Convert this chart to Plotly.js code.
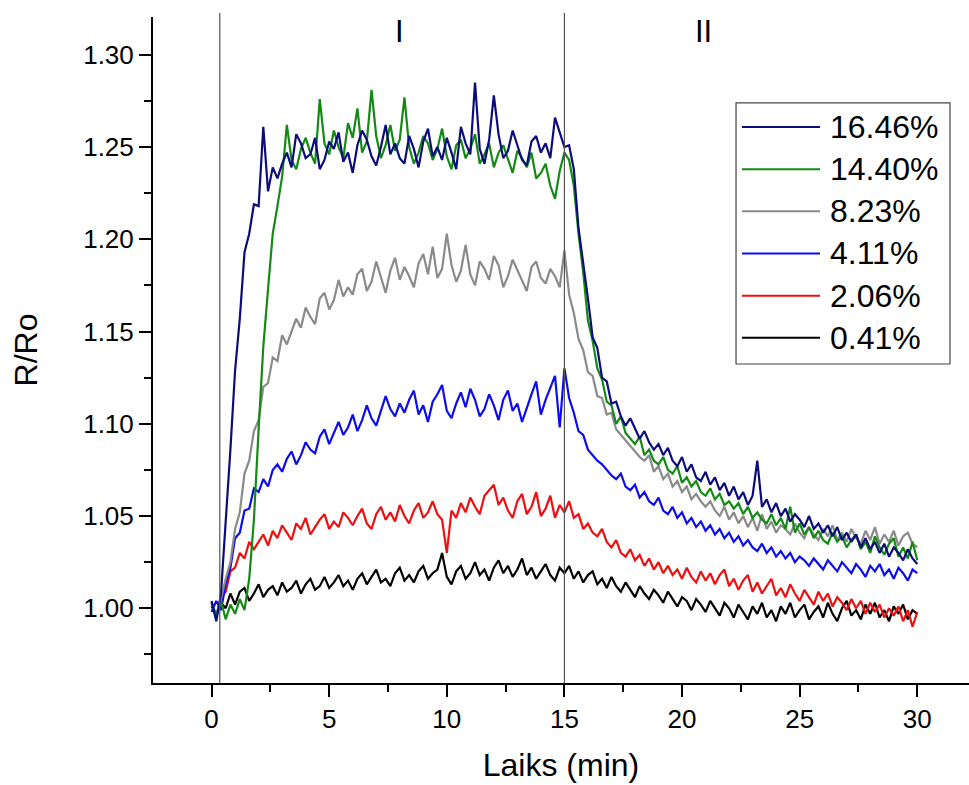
<!DOCTYPE html>
<html>
<head>
<meta charset="utf-8">
<script src="https://cdn.plot.ly/plotly-3.0.1.min.js"></script>
<style>html,body{margin:0;padding:0;background:#fff;}#chart{width:969px;height:785px;}</style>
</head>
<body>
<div id="chart"></div>
<script>
// time (min)
const time = [0,0.2,0.4,0.6,0.8,1,1.2,1.4,1.6,1.8,2,2.2,2.4,2.6,2.8,3,3.2,3.4,3.6,3.8,4,4.2,4.4,4.6,4.8,5,5.2,5.4,5.6,5.8,6,6.2,6.4,6.6,6.8,7,7.2,7.4,7.6,7.8,8,8.2,8.4,8.6,8.8,9,9.2,9.4,9.6,9.8,10,10.2,10.4,10.6,10.8,11,11.2,11.4,11.6,11.8,12,12.2,12.4,12.6,12.8,13,13.2,13.4,13.6,13.8,14,14.2,14.4,14.6,14.8,15,15.2,15.4,15.6,15.8,16,16.2,16.4,16.6,16.8,17,17.2,17.4,17.6,17.8,18,18.2,18.4,18.6,18.8,19,19.2,19.4,19.6,19.8,20,20.2,20.4,20.6,20.8,21,21.2,21.4,21.6,21.8,22,22.2,22.4,22.6,22.8,23,23.2,23.4,23.6,23.8,24,24.2,24.4,24.6,24.8,25,25.2,25.4,25.6,25.8,26,26.2,26.4,26.6,26.8,27,27.2,27.4,27.6,27.8,28,28.2,28.4,28.6,28.8,29,29.2,29.4,29.6,29.8,30];

const s1646 = [1.004,0.993,1.008,1.046,1.086,1.129,1.157,1.193,1.203,1.219,1.218,1.261,1.226,1.239,1.233,
1.241,1.247,1.239,1.257,1.252,1.244,1.246,1.255,1.238,1.243,1.253,1.249,1.258,1.242,1.247,1.236,1.251,1.259,1.254,1.245,1.240,1.250,1.262,1.246,1.252,1.244,1.241,1.256,1.249,1.239,1.253,1.260,1.245,1.250,1.243,1.255,1.247,1.238,1.261,1.252,1.246,1.285,1.249,1.241,1.254,1.278,1.257,1.244,1.248,1.259,1.251,1.243,1.240,1.253,1.256,1.247,1.252,1.244,1.266,1.258,1.250,
1.251,1.238,1.206,1.188,1.168,1.147,1.141,1.125,1.123,1.111,
1.112,1.104,1.099,1.103,1.097,1.092,1.096,1.090,1.086,1.089,1.083,1.087,1.080,1.077,1.082,1.074,1.078,1.071,1.069,1.074,1.067,1.071,1.064,1.068,1.061,1.066,1.059,1.063,1.056,1.061,1.080,1.055,1.059,1.052,1.057,1.050,1.054,1.047,1.051,1.048,1.044,1.050,1.043,1.046,1.041,1.045,1.039,1.044,1.037,1.041,1.036,1.040,1.033,1.038,1.032,1.036,1.030,1.035,1.028,1.033,1.030,1.026,1.032,1.027,1.024];

const s1440 = [1.003,0.996,1.004,0.994,1.002,0.997,1.005,0.999,1.016,1.048,1.097,1.142,1.173,1.203,1.218,1.234,
1.262,1.243,1.238,1.249,1.255,1.247,1.241,1.276,1.252,1.246,1.259,1.250,1.244,1.263,1.255,1.271,1.247,1.253,1.281,1.256,1.244,1.251,1.262,1.248,1.254,1.277,1.250,1.241,1.247,1.256,1.252,1.243,1.249,1.260,1.245,1.238,1.251,1.254,1.244,1.249,1.257,1.241,1.246,1.252,1.239,1.247,1.251,1.243,1.236,1.248,1.244,1.239,1.247,1.233,1.236,1.241,1.229,1.222,1.237,1.247,1.243,
1.229,1.203,1.182,1.156,1.145,1.130,1.124,1.112,1.110,
1.100,1.104,1.095,1.092,1.089,1.093,1.083,1.086,1.080,1.078,1.082,1.075,1.073,1.077,1.068,1.071,1.066,1.069,1.063,1.061,1.065,1.059,1.062,1.056,1.058,1.054,1.057,1.051,1.055,1.049,1.052,1.048,1.046,1.051,1.045,1.049,1.043,1.055,1.041,1.046,1.040,1.044,1.038,1.042,1.037,1.035,1.041,1.036,1.039,1.033,1.037,1.040,1.032,1.036,1.030,1.039,1.033,1.029,1.035,1.038,1.028,1.033,1.027,1.036,1.026];

const s823 = [1.002,0.997,1.005,1.016,1.025,1.043,1.052,1.073,1.080,1.096,1.102,1.120,1.122,1.136,1.134,1.148,1.143,
1.150,1.157,1.152,1.163,1.158,1.154,1.168,1.171,1.162,1.167,1.178,1.169,1.174,1.170,1.181,1.184,1.172,1.177,1.188,1.179,1.171,1.183,1.190,1.178,1.185,1.180,1.174,1.187,1.192,1.181,1.196,1.179,1.184,1.203,1.186,1.177,1.183,1.197,1.181,1.175,1.188,1.184,1.178,1.191,1.186,1.174,1.180,1.189,1.183,1.177,1.172,1.185,1.188,1.179,1.176,1.184,1.180,1.174,1.194,1.170,
1.160,1.146,1.140,1.128,1.126,1.115,1.114,1.105,1.106,
1.097,1.094,1.091,1.088,1.085,1.082,1.080,1.083,1.074,1.077,1.070,1.073,1.066,1.069,1.063,1.066,1.059,1.062,1.058,1.055,1.058,1.053,1.050,1.055,1.048,1.052,1.046,1.050,1.044,1.049,1.042,1.051,1.043,1.047,1.041,1.045,1.043,1.040,1.046,1.041,1.038,1.044,1.040,1.037,1.043,1.039,1.045,1.037,1.041,1.036,1.043,1.038,1.035,1.042,1.037,1.044,1.035,1.040,1.036,1.042,1.034,1.039,1.041,1.035,1.033];

const s411 = [0.998,1.004,0.999,1.013,1.022,1.038,1.041,1.053,1.054,1.065,1.063,
1.070,1.066,1.075,1.078,1.074,1.081,1.085,1.078,1.083,1.090,1.086,1.084,1.093,1.097,1.089,1.095,1.101,1.094,1.098,1.105,1.096,1.102,1.110,1.103,1.099,1.107,1.115,1.108,1.104,1.111,1.106,1.113,1.118,1.105,1.110,1.101,1.112,1.116,1.121,1.107,1.103,1.111,1.117,1.109,1.119,1.113,1.104,1.108,1.116,1.110,1.102,1.113,1.118,1.107,1.111,1.101,1.109,1.116,1.123,1.105,1.113,1.120,1.126,1.098,1.130,
1.114,1.106,1.096,1.094,
1.086,1.083,1.080,1.078,1.075,1.072,1.070,1.073,1.066,1.064,1.067,1.060,1.063,1.058,1.056,1.060,1.053,1.051,1.055,1.049,1.052,1.046,1.049,1.044,1.047,1.042,1.045,1.040,1.043,1.038,1.041,1.036,1.039,1.034,1.037,1.033,1.031,1.035,1.030,1.033,1.028,1.031,1.027,1.030,1.025,1.028,1.026,1.023,1.027,1.024,1.021,1.026,1.023,1.020,1.025,1.022,1.019,1.024,1.021,1.017,1.023,1.020,1.024,1.018,1.021,1.016,1.022,1.019,1.015,1.021,1.019];

const s206 = [1.003,0.995,1.006,1.009,1.020,1.022,1.030,1.027,1.036,1.032,
1.036,1.040,1.034,1.042,1.038,1.045,1.041,1.037,1.046,1.043,1.049,1.040,1.044,1.048,1.051,1.043,1.047,1.044,1.052,1.049,1.045,1.050,1.054,1.046,1.043,1.051,1.055,1.048,1.052,1.047,1.056,1.050,1.046,1.053,1.057,1.049,1.052,1.058,1.051,1.048,1.030,1.053,1.049,1.057,1.052,1.060,1.055,1.051,1.061,1.064,1.067,1.056,1.060,1.053,1.049,1.058,1.062,1.051,1.055,1.063,1.050,1.054,1.061,1.049,1.056,1.052,1.058,1.049,1.051,1.043,
1.046,1.041,1.039,1.043,1.036,1.033,1.037,1.030,1.028,1.032,1.026,1.029,1.023,1.027,1.021,1.025,1.019,1.023,1.018,1.021,1.016,1.022,1.017,1.014,1.020,1.015,1.019,1.013,1.018,1.021,1.012,1.016,1.010,1.015,1.018,1.009,1.014,1.008,1.012,1.016,1.007,1.011,1.006,1.013,1.008,1.004,1.010,1.006,1.002,1.009,1.004,1.008,1.001,1.006,1.003,0.999,1.005,1.000,1.004,0.997,1.003,0.998,1.002,0.995,1.000,0.996,1.001,0.993,0.999,0.990,0.998];

const s041 = [1.001,0.997,1.003,1.000,1.008,1.002,1.009,1.011,1.004,1.008,1.013,1.006,1.010,1.012,1.007,1.014,1.009,1.011,1.015,1.008,1.013,1.016,1.010,1.012,1.017,1.011,1.014,1.018,1.012,1.015,1.010,1.016,1.019,1.013,1.017,1.021,1.014,1.016,1.012,1.019,1.022,1.015,1.018,1.014,1.020,1.023,1.016,1.019,1.021,1.030,1.017,1.013,1.020,1.023,1.016,1.019,1.025,1.018,1.021,1.015,1.022,1.026,1.019,1.023,1.017,1.021,1.027,1.018,1.022,1.016,1.020,1.024,1.018,1.015,1.022,1.019,1.023,1.016,1.020,1.014,
1.018,1.020,1.013,1.016,1.011,1.017,1.012,1.009,1.014,1.010,1.006,1.012,1.008,1.005,1.010,1.007,1.003,1.009,1.005,1.001,1.006,1.004,0.999,1.005,1.002,0.998,1.004,1.000,0.996,1.003,1.000,0.995,1.002,0.998,0.994,1.001,0.997,1.003,0.995,0.999,0.993,1.001,0.997,1.003,0.995,0.999,1.002,0.994,0.998,1.001,0.995,1.003,0.997,0.993,1.000,1.004,0.996,0.999,0.994,1.002,0.997,1.003,0.995,0.999,0.993,1.001,0.997,1.002,0.994,0.999,0.997];

const seriesNames = ['16.46%','14.40%','8.23%','4.11%','2.06%','0.41%'];
const seriesValues = [s1646, s1440, s823, s411, s206, s041];
const seriesColors = ['#0c0c7c','#138a13','#8a8a8a','#0c0cee','#ee1010','#000000'];
const regionLabels = ['I','II'];
const regionLabelX = [8.0, 20.9];
const boundaryX = [0.35, 15];
const xTicks = [0,5,10,15,20,25,30];

const FONT = 'Liberation Sans, Arial, sans-serif';

// draw in reverse order so the first series is on top
const traces = [];
for (let i = seriesValues.length - 1; i >= 0; i--) {
  traces.push({
    x: time, y: seriesValues[i], name: seriesNames[i], type: 'scatter', mode: 'lines',
    line: {color: seriesColors[i], width: 2.2}, showlegend: false, hoverinfo: 'skip'
  });
}

const shapes = [];
const annotations = [];
boundaryX.forEach(b => shapes.push({type:'line', xref:'x', yref:'paper', x0:b, x1:b, y0:0, y1:1.006,
  line:{color:'#555', width:1.2}}));

regionLabels.forEach((t, i) => annotations.push({xref:'x', yref:'paper', x: regionLabelX[i], y: 0.978,
  text: t, showarrow:false, font:{family:FONT, size:31, color:'#000'}, xanchor:'center', yanchor:'middle'}));

// custom legend box
const lx0 = 0.7145, lx1 = 0.9767, ly0 = 0.479, ly1 = 0.871;
shapes.push({type:'rect', xref:'paper', yref:'paper', x0:lx0, x1:lx1, y0:ly0, y1:ly1,
  line:{color:'#444', width:1.2}, fillcolor:'rgba(255,255,255,0)'});
const rowTop = 0.8348, rowStep = 0.0633;
seriesNames.forEach((n, i) => {
  const yy = rowTop - i * rowStep;
  shapes.push({type:'line', xref:'paper', yref:'paper', x0:0.7218, x1:0.8174, y0:yy, y1:yy,
    line:{color:seriesColors[i], width:2}});
  annotations.push({xref:'paper', yref:'paper', x:0.8272, y:yy, text:n, showarrow:false,
    xanchor:'left', yanchor:'middle', font:{family:FONT, size:32, color:'#000'}});
});

const layout = {
  width: 969, height: 785,
  margin: {l:153, r:0, t:17, b:102},
  paper_bgcolor:'#fff', plot_bgcolor:'#fff',
  showlegend:false,
  font:{family:FONT, color:'#000'},
  xaxis: {
    range:[-2.49, 32.2], showgrid:false, zeroline:false,
    showline:true, linecolor:'#000', linewidth:2,
    tickmode:'array', tickvals:xTicks, ticktext:xTicks.map(String),
    ticks:'outside', ticklen:12, tickwidth:2, tickcolor:'#000',
    minor:{dtick:2.5, tick0:0, ticks:'outside', ticklen:7, tickwidth:2, tickcolor:'#000'},
    tickfont:{family:FONT, size:26, color:'#000'},
    title:{text:'Laiks (min)', font:{family:FONT, size:32, color:'#000'}, standoff:20}
  },
  yaxis: {
    range:[0.9595, 1.3205], showgrid:false, zeroline:false,
    showline:true, linecolor:'#000', linewidth:2,
    tick0:1.0, dtick:0.05, tickformat:'.2f',
    ticks:'outside', ticklen:12, tickwidth:2, tickcolor:'#000',
    minor:{dtick:0.025, tick0:1.0, ticks:'outside', ticklen:7, tickwidth:2, tickcolor:'#000'},
    tickfont:{family:FONT, size:26, color:'#000'},
    title:{text:'R/Ro', font:{family:FONT, size:32, color:'#000'}, standoff:36}
  },
  shapes: shapes,
  annotations: annotations
};

Plotly.newPlot('chart', traces, layout, {displayModeBar:false, staticPlot:true});
</script>
</body>
</html>
